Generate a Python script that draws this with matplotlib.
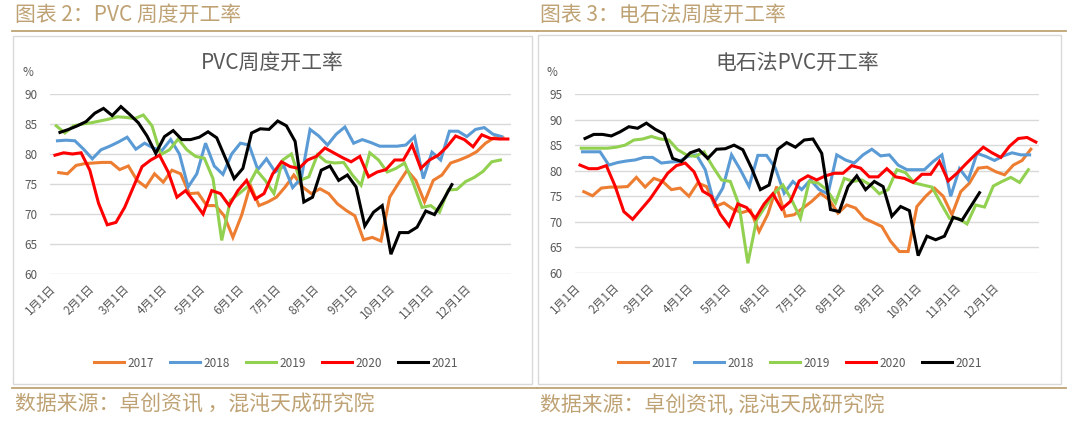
import numpy as np
import matplotlib
matplotlib.use('Agg')
import matplotlib.pyplot as plt
from matplotlib.patches import Rectangle
from matplotlib.lines import Line2D

plt.rcParams['font.family'] = ['Noto Sans CJK SC', 'DejaVu Sans']

# 年份、颜色、每年第一个周度数据所在的日序(1月1日=0)
years = ['2017', '2018', '2019', '2020', '2021']
colors = ['#ED7D31', '#5B9BD5', '#92D050', '#FF0000', '#000000']
first_day = [4, 3, 2, 1, 5]

month_days = [0, 31, 59, 90, 120, 151, 181, 212, 243, 273, 304, 334]
month_labels = ['%d月1日' % m for m in range(1, 13)]

# PVC 周度开工率 (%)
pvc_2017 = [76.9, 76.7, 78.1, 78.4, 78.5, 78.6, 78.6, 77.4, 78.0, 75.6,
            74.5, 76.7, 75.3, 77.3, 76.7, 73.4, 73.5, 71.4, 71.4, 69.7,
            66.1, 69.8, 74.8, 71.4, 72.0, 72.8, 74.5, 76.5, 74.5, 73.4,
            74.2, 73.4, 71.7, 70.6, 69.7, 65.7, 66.1, 65.5, 72.8, 75.1,
            77.3, 75.6, 72.0, 75.6, 76.5, 78.5, 79.0, 79.6, 80.4, 81.8,
            82.7, 82.7]
pvc_2018 = [82.2, 82.3, 82.2, 80.8, 79.2, 80.7, 81.3, 82.0, 82.8, 80.8,
            81.8, 81.0, 80.6, 82.4, 80.0, 74.5, 76.7, 81.8, 78.0, 76.6,
            80.0, 81.8, 81.5, 77.4, 79.2, 77.0, 78.0, 74.4, 76.0, 84.1,
            83.0, 81.5, 83.3, 84.5, 81.8, 82.4, 81.9, 81.3, 81.3, 81.3,
            81.5, 82.9, 75.9, 80.3, 79.0, 83.8, 83.8, 82.9, 84.1, 84.4,
            83.3, 82.9]
pvc_2019 = [84.7, 83.5, 84.7, 85.0, 85.2, 85.5, 85.8, 86.2, 86.1, 85.9,
            86.5, 84.7, 79.9, 80.7, 82.5, 80.7, 79.6, 79.3, 75.9, 65.6,
            72.3, 73.4, 74.6, 77.3, 75.6, 73.4, 79.0, 80.0, 75.6, 76.2,
            79.9, 78.7, 78.5, 78.6, 76.5, 74.8, 80.2, 79.0, 77.0, 77.6,
            78.5, 75.1, 71.1, 71.4, 70.3, 74.0, 74.1, 75.4, 76.1, 77.1,
            78.7, 79.0]
pvc_2020 = [79.8, 80.2, 80.0, 80.2, 77.3, 71.8, 68.2, 68.6, 71.1, 74.5,
            77.9, 79.0, 79.8, 77.0, 72.8, 73.9, 72.0, 70.0, 73.9, 73.4,
            71.4, 73.9, 75.6, 72.5, 73.4, 76.7, 78.7, 77.9, 77.6, 79.0,
            79.6, 81.0, 80.2, 79.4, 78.7, 79.6, 76.2, 77.0, 77.4, 79.0,
            79.0, 81.5, 77.6, 79.0, 79.8, 81.2, 83.0, 82.4, 81.2, 83.2,
            82.6, 82.5, 82.5]
pvc_2021 = [83.6, 84.1, 84.7, 85.4, 86.8, 87.6, 86.4, 87.9, 86.6, 85.2,
            83.0, 80.1, 82.9, 83.9, 82.4, 82.4, 82.8, 83.7, 82.7, 79.3,
            75.9, 77.6, 83.5, 84.2, 84.1, 85.5, 84.7, 82.1, 72.0, 72.8,
            77.3, 78.0, 75.6, 76.5, 74.5, 68.0, 70.3, 71.4, 63.3, 66.9,
            66.9, 67.8, 70.5, 69.9, 72.3, 74.9]

# 电石法 PVC 开工率 (%)
cs_2017 = [75.9, 75.1, 76.6, 76.8, 76.8, 76.9, 78.7, 76.8, 78.5, 77.9,
           76.3, 76.6, 75.0, 77.6, 76.9, 73.0, 73.7, 72.5, 71.8, 72.3,
           68.1, 71.5, 76.9, 71.1, 71.4, 72.7, 74.0, 75.6, 74.3, 71.7,
           73.3, 72.7, 70.7, 69.9, 69.1, 66.2, 64.2, 64.2, 73.0, 75.0,
           76.6, 75.0, 71.4, 75.9, 77.6, 80.5, 80.7, 79.8, 79.2, 81.1,
           82.0, 84.2]
cs_2018 = [83.7, 83.7, 83.7, 81.1, 81.6, 81.9, 82.1, 82.6, 82.6, 81.5,
           81.7, 81.8, 82.8, 83.1, 80.2, 73.7, 76.6, 83.1, 80.2, 76.9,
           83.0, 83.0, 80.5, 75.6, 77.9, 76.3, 78.2, 76.3, 75.5, 83.1,
           82.1, 81.5, 83.1, 84.2, 82.9, 83.1, 81.1, 80.2, 80.2, 80.2,
           81.8, 83.1, 75.0, 80.4, 78.2, 83.4, 82.8, 82.0, 82.9, 83.5,
           83.1, 83.1]
cs_2019 = [84.4, 84.4, 84.4, 84.4, 84.6, 85.0, 86.0, 86.2, 86.7, 86.2,
           86.0, 84.1, 83.1, 82.8, 83.7, 80.8, 78.2, 77.9, 73.3, 61.9,
           70.4, 73.0, 75.6, 77.2, 74.3, 70.7, 77.9, 77.6, 76.3, 73.7,
           78.5, 77.9, 78.2, 77.2, 75.5, 76.3, 80.2, 79.6, 77.6, 77.2,
           76.8, 73.7, 70.7, 70.7, 69.6, 73.3, 72.9, 77.0, 77.9, 78.7,
           77.7, 80.2]
cs_2020 = [81.1, 80.4, 80.4, 81.0, 77.0, 72.0, 70.5, 72.5, 74.5, 77.0,
           79.5, 81.0, 81.5, 79.8, 76.0, 75.0, 71.5, 69.2, 73.5, 72.8,
           70.7, 73.5, 75.5, 72.5, 74.0, 78.0, 79.0, 78.2, 79.0, 79.5,
           79.5, 81.0, 80.5, 78.8, 78.8, 80.4, 78.8, 78.5, 77.7, 79.3,
           79.3, 81.8, 78.0, 79.5, 81.3, 83.0, 84.6, 83.5, 82.6, 84.8,
           86.3, 86.5, 85.6]
cs_2021 = [86.3, 87.1, 87.1, 86.8, 87.6, 88.6, 88.3, 89.3, 88.1, 87.2,
           82.4, 81.8, 83.5, 84.1, 82.4, 84.2, 84.3, 85.0, 84.1, 80.5,
           76.3, 77.2, 84.2, 85.5, 84.6, 86.0, 86.2, 83.4, 72.4, 72.0,
           76.9, 79.0, 76.3, 77.9, 76.9, 71.1, 73.0, 72.2, 63.4, 67.2,
           66.5, 67.2, 70.9, 70.3, 73.0, 75.7]

W, H = 1080, 423
TAN = '#BFA274'
GRAY = '#595959'


def fx(x):
    return x / W


def fy(y):
    return 1 - y / H


fig = plt.figure(figsize=(W / 100, H / 100), dpi=100)


def draw_panel(box, grid, series, yticks, chart_title, title_x, header, footer, pct_xy, legend_x):

    # 外框、标题、底部说明
    bx0, bx1, by0, by1 = box
    fig.add_artist(Rectangle((fx(bx0), fy(by1)), (bx1 - bx0) / W, (by1 - by0) / H,
                             transform=fig.transFigure, fill=False,
                             edgecolor='#D9D9D9', lw=1.0))
    lx0, lx1 = bx0 - 1, bx1 + 5
    fig.add_artist(Line2D([fx(lx0), fx(lx1)], [fy(31.5), fy(31.5)],
                          transform=fig.transFigure, color=TAN, lw=1.3))
    fig.add_artist(Line2D([fx(lx0), fx(lx1)], [fy(388), fy(388)],
                          transform=fig.transFigure, color=TAN, lw=1.3))
    fig.text(fx(bx0 + 2), fy(15), header, color=TAN, fontsize=15,
             ha='left', va='center')
    fig.text(fx(bx0 + 2), fy(405), footer, color=TAN, fontsize=15,
             ha='left', va='center')
    fig.text(fx(title_x), fy(63), chart_title, color=GRAY, fontsize=15,
             ha='center', va='center')
    fig.text(fx(pct_xy[0]), fy(pct_xy[1]), '%', color=GRAY, fontsize=8.5,
             ha='center', va='center')

    gx0, gx1, gy0, gy1 = grid
    ax = fig.add_axes([fx(gx0), fy(gy1), (gx1 - gx0) / W, (gy1 - gy0) / H])
    for vals, c, d0, lab in series:
        xs = d0 + 7 * np.arange(len(vals))
        ax.plot(xs, vals, color=c, lw=2.2, label=lab, solid_joinstyle='miter')

    ax.set_xlim(-3, 367.5)
    ax.set_ylim(yticks[0], yticks[-1])
    ax.set_yticks(yticks)
    ax.set_xticks(month_days)
    ax.set_xticklabels(month_labels, rotation=45, ha='right', va='center',
                       rotation_mode='anchor')
    ax.tick_params(axis='both', length=0, labelsize=8.5, labelcolor=GRAY)
    ax.tick_params(axis='y', pad=9)
    ax.tick_params(axis='x', pad=9)
    ax.grid(axis='y', color='#D9D9D9', lw=1.0)
    ax.set_axisbelow(True)
    for s in ax.spines.values():
        s.set_visible(False)

    ax.legend(loc='center', bbox_to_anchor=(fx(legend_x), fy(363)),
              bbox_transform=fig.transFigure, ncol=5, frameon=False,
              fontsize=8.5, labelcolor=GRAY, handlelength=2.6,
              handletextpad=0.3, columnspacing=1.3)
    return ax


pvc_series = list(zip([pvc_2017, pvc_2018, pvc_2019, pvc_2020, pvc_2021],
                      colors, first_day, years))
cs_series = list(zip([cs_2017, cs_2018, cs_2019, cs_2020, cs_2021],
                     colors, first_day, years))

draw_panel((13, 532, 36, 384), (50, 511, 94, 274), pvc_series,
           list(range(60, 91, 5)), 'PVC周度开工率', 272,
           '图表 2：PVC 周度开工率', '数据来源：卓创资讯 ，混沌天成研究院',
           (28, 73), 276)
draw_panel((538, 1061, 35, 384), (575, 1039, 94, 273), cs_series,
           list(range(60, 96, 5)), '电石法PVC开工率', 797,
           '图表 3：电石法周度开工率', '数据来源：卓创资讯, 混沌天成研究院',
           (552, 72), 800)

fig.savefig('out.png', dpi=100)
